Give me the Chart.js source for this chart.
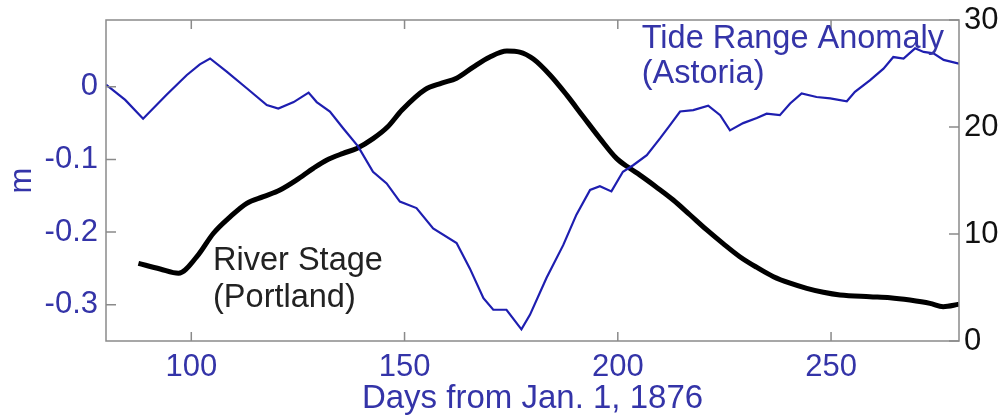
<!DOCTYPE html>
<html><head><meta charset="utf-8">
<script src="https://cdn.jsdelivr.net/npm/chart.js@4.4.0/dist/chart.umd.min.js"></script>
<style>html,body{margin:0;padding:0;background:#fff;}#wrap{width:1002px;height:419px;}</style>
</head><body><div id="wrap"><canvas id="c" width="1002" height="419"></canvas></div>
<script>
const tideDays = [80,84.5,88.7,94.2,98.9,102,104.4,108.3,113,117.7,120.4,124,127.5,129.4,132.5,135.6,139.1,142.6,145.8,148.9,152.8,156.7,162.2,165.3,168.5,170.8,173.9,177.4,179.4,183.3,187.2,190.3,193.5,195.8,198.5,201.2,203.6,206.8,209.9,212.2,214.6,217.7,221.2,224,226.3,229.4,232.6,234.9,238,240.4,243.1,246.6,249.8,253.7,255.6,259.1,262.3,264.6,267,269.7,271.7,274,276.4,280];
const tideValues = [0.003,-0.018,-0.044,-0.011,0.016,0.031,0.039,0.021,-0.002,-0.025,-0.030,-0.021,-0.008,-0.021,-0.034,-0.057,-0.082,-0.117,-0.133,-0.158,-0.167,-0.195,-0.215,-0.25,-0.291,-0.307,-0.307,-0.334,-0.314,-0.263,-0.218,-0.176,-0.142,-0.137,-0.144,-0.117,-0.108,-0.094,-0.071,-0.053,-0.034,-0.032,-0.026,-0.039,-0.060,-0.050,-0.043,-0.037,-0.039,-0.023,-0.009,-0.014,-0.016,-0.020,-0.007,0.009,0.025,0.041,0.039,0.053,0.048,0.046,0.037,0.032];
const stageDays = [87.6,92.7,97,101.3,105.2,109.1,113,116.9,120.8,124.7,128.6,131.7,135.6,138.8,142.7,146,149.4,154.8,158.7,162.2,166.1,170,174,177,180.2,184.1,188,191.9,195.8,199.7,202.8,205.2,209,213,216.9,220.8,224.7,228.6,232.5,236.5,240.4,244.3,248.2,252.1,259.1,263.8,268.5,273.2,276.3,280];
const stageValues = [7.26,6.73,6.33,7.88,10.07,11.6,12.87,13.49,14.11,15.05,16.14,16.9,17.54,18.0,18.94,20.0,21.59,23.5,24.1,24.55,25.6,26.55,27.1,27.0,26.35,24.86,23.0,20.96,18.94,17.07,16.14,15.5,14.4,13.18,11.8,10.4,9.1,7.88,6.9,6.01,5.4,4.92,4.55,4.3,4.14,4.05,3.83,3.52,3.21,3.43];
const xTicks = [100,150,200,250];
const leftTicks = [0,-0.1,-0.2,-0.3];
const rightTicks = [0,10,20,30];
const xTitle = 'Days from Jan. 1, 1876';
const leftTitle = 'm';
const tideLabel = ['Tide Range Anomaly','(Astoria)'];
const stageLabel = ['River Stage','(Portland)'];

const BLUE_LINE = '#1e1eb0';
const BLUE_TEXT = '#3434a8';
const FONT = '"Liberation Sans", Arial, sans-serif';

const frame = {
  id: 'frame',
  afterDatasetsDraw(chart) {
    const {ctx, chartArea: a, scales} = chart;
    ctx.save();
    ctx.strokeStyle = '#8a8a8a';
    ctx.lineWidth = 1.5;
    ctx.strokeRect(a.left, a.top, a.right - a.left, a.bottom - a.top);
    ctx.beginPath();
    scales.x.ticks.forEach(t => {
      const p = scales.x.getPixelForValue(t.value);
      ctx.moveTo(p, a.bottom); ctx.lineTo(p, a.bottom - 9);
      ctx.moveTo(p, a.top); ctx.lineTo(p, a.top + 9);
    });
    scales.yL.ticks.forEach(t => {
      const p = scales.yL.getPixelForValue(t.value);
      ctx.moveTo(a.left, p); ctx.lineTo(a.left + 10, p);
    });
    scales.yR.ticks.forEach(t => {
      const p = scales.yR.getPixelForValue(t.value);
      ctx.moveTo(a.right, p); ctx.lineTo(a.right - 10, p);
    });
    ctx.stroke();
    ctx.font = '32.5px ' + FONT;
    ctx.textAlign = 'left';
    ctx.textBaseline = 'alphabetic';
    ctx.fillStyle = BLUE_TEXT;
    const tx = scales.x.getPixelForValue(205.6);
    ctx.fillText(tideLabel[0], tx, scales.yL.getPixelForValue(0.053));
    ctx.fillText(tideLabel[1], tx, scales.yL.getPixelForValue(0.005));
    ctx.fillStyle = '#222';
    const sx = scales.x.getPixelForValue(105.1);
    ctx.fillText(stageLabel[0], sx, scales.yR.getPixelForValue(6.64));
    ctx.fillText(stageLabel[1], sx, scales.yR.getPixelForValue(3.18));
    ctx.restore();
  }
};

function noPad(s) { s.paddingTop = 0; s.paddingBottom = 0; s.paddingLeft = 0; s.paddingRight = 0; }

new Chart(document.getElementById('c'), {
  type: 'line',
  data: {
    datasets: [
      {
        label: 'Tide Range Anomaly (Astoria)',
        data: tideDays.map((d, i) => ({x: d, y: tideValues[i]})),
        yAxisID: 'yL',
        borderColor: BLUE_LINE,
        borderWidth: 2.2,
        pointRadius: 0,
        tension: 0,
        order: 1
      },
      {
        label: 'River Stage (Portland)',
        data: stageDays.map((d, i) => ({x: d, y: stageValues[i]})),
        yAxisID: 'yR',
        borderColor: '#000',
        borderWidth: 5,
        pointRadius: 0,
        cubicInterpolationMode: 'monotone',
        order: 2
      }
    ]
  },
  options: {
    responsive: false,
    devicePixelRatio: 1,
    animation: false,
    layout: {padding: {top: 20, left: 0, right: 0, bottom: 0}},
    plugins: {legend: {display: false}, tooltip: {enabled: false}},
    scales: {
      x: {
        type: 'linear', position: 'bottom', min: 80, max: 280,
        afterBuildTicks: s => { s.ticks = xTicks.map(v => ({value: v})); },
        afterFit: s => { s.height = 78; noPad(s); },
        grid: {display: false, drawTicks: false},
        border: {display: false},
        ticks: {color: BLUE_TEXT, font: {family: FONT, size: 31}, padding: 8, maxRotation: 0, autoSkip: false},
        title: {display: true, text: xTitle, color: BLUE_TEXT, font: {family: FONT, size: 33}, padding: {top: 0, bottom: 0}}
      },
      yL: {
        type: 'linear', position: 'left', min: -0.35, max: 0.092,
        afterBuildTicks: s => { s.ticks = leftTicks.map(v => ({value: v})); },
        afterFit: s => { s.width = 106; noPad(s); },
        grid: {display: false, drawTicks: false},
        border: {display: false},
        ticks: {color: BLUE_TEXT, font: {family: FONT, size: 31}, padding: 8,
          callback: v => (Math.abs(v) < 1e-9 ? '0' : v.toFixed(1))},
        title: {display: true, text: leftTitle, color: BLUE_TEXT, font: {family: FONT, size: 31}, padding: {top: 4, bottom: 4}}
      },
      yR: {
        type: 'linear', position: 'right', min: 0, max: 30,
        afterBuildTicks: s => { s.ticks = rightTicks.map(v => ({value: v})); },
        afterFit: s => { s.width = 43; noPad(s); },
        grid: {display: false, drawTicks: false},
        border: {display: false},
        ticks: {color: '#111', font: {family: FONT, size: 31}, padding: 5}
      }
    }
  },
  plugins: [frame]
});
</script>
</body></html>
